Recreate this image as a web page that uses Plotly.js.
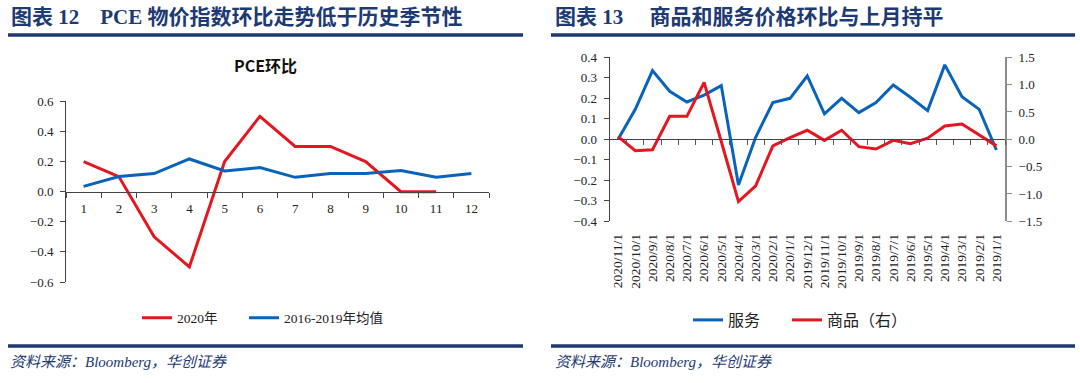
<!DOCTYPE html>
<html>
<head>
<meta charset="utf-8">
<script src="https://cdn.plot.ly/plotly-3.0.1.min.js"></script>
<style>html,body{margin:0;padding:0;background:#fff;}#chart{width:1080px;height:383px;}</style>
</head>
<body>
<div id="chart"></div>
<script>
// ---- Left chart data (图表12) ----
const months = ['1','2','3','4','5','6','7','8','9','10','11','12'];
const pce2020 = [0.2, 0.1, -0.3, -0.5, 0.2, 0.5, 0.3, 0.3, 0.2, 0.0, 0.0];
const pceAvg = [0.035, 0.10, 0.12, 0.217, 0.137, 0.16, 0.095, 0.12, 0.12, 0.14, 0.095, 0.12];
const leftYTicks = [-0.6, -0.4, -0.2, 0.0, 0.2, 0.4, 0.6];

// ---- Right chart data (图表13) ----
const dates = ['2020/11/1','2020/10/1','2020/9/1','2020/8/1','2020/7/1','2020/6/1','2020/5/1','2020/4/1','2020/3/1','2020/2/1','2020/1/1','2019/12/1','2019/11/1','2019/10/1','2019/9/1','2019/8/1','2019/7/1','2019/6/1','2019/5/1','2019/4/1','2019/3/1','2019/2/1','2019/1/1'];
const services = [0.00, 0.146, 0.335, 0.234, 0.182, 0.216, 0.262, -0.223, 0.01, 0.179, 0.20, 0.309, 0.124, 0.20, 0.13, 0.179, 0.265, 0.205, 0.14, 0.363, 0.208, 0.146, -0.052];
const goods = [0.05, -0.21, -0.19, 0.42, 0.42, 1.04, -0.04, -1.14, -0.85, -0.12, 0.03, 0.165, -0.02, 0.165, -0.134, -0.177, -0.02, -0.08, 0.02, 0.244, 0.28, 0.08, -0.12];

const RED = '#E5161F', BLUE = '#0A63BA', NAVY = '#1D3A73';
const W = 1080, H = 383;
const px = v => v / W, py = v => 1 - v / H;
const serif = 'Liberation Serif, Noto Sans CJK SC, serif';
const tickFont = {family: serif, size: 13, color: '#222'};
const nb = '\u00A0';

const traces = [
  {x: months.slice(0, pce2020.length), y: pce2020, name: '2020年', type: 'scatter', mode: 'lines',
   line: {color: RED, width: 3}, xaxis: 'x', yaxis: 'y', legend: 'legend'},
  {x: months, y: pceAvg, name: '2016-2019年均值', type: 'scatter', mode: 'lines',
   line: {color: BLUE, width: 3}, xaxis: 'x', yaxis: 'y', legend: 'legend3'},
  {x: dates, y: services, name: '服务', type: 'scatter', mode: 'lines',
   line: {color: BLUE, width: 3}, xaxis: 'x3', yaxis: 'y3', legend: 'legend2'},
  {x: dates, y: goods, name: '商品（右）', type: 'scatter', mode: 'lines',
   line: {color: RED, width: 3}, xaxis: 'x4', yaxis: 'y4', legend: 'legend4'}
];

const leftLegendFont = {family: serif, size: 13.5, color: '#222'};
const rightLegendFont = {family: 'Noto Sans CJK SC, sans-serif', size: 16, color: '#222'};
const mkLegend = (xpx, ypx, font) => ({orientation: 'h', x: px(xpx), y: py(ypx), xanchor: 'left', yanchor: 'middle',
  font: font, bgcolor: 'rgba(0,0,0,0)', itemwidth: 30});

const lTop = 101.3, lBot = 282, rTop = 57.3, rBot = 221.3;
const layout = {
  width: W, height: H,
  margin: {l: 0, r: 0, t: 0, b: 0},
  paper_bgcolor: '#fff', plot_bgcolor: 'rgba(0,0,0,0)',
  showlegend: true,
  // Left chart
  xaxis: {domain: [px(66), px(489)], anchor: 'free', position: (py(lTop) + py(lBot)) / 2,
    type: 'category', range: [-0.5, months.length - 0.5], showgrid: false, zeroline: false,
    showline: true, linecolor: '#444', linewidth: 1,
    ticks: 'outside', tickson: 'boundaries', ticklen: 5, tickcolor: '#444',
    tickfont: tickFont, ticklabelstandoff: 5},
  yaxis: {domain: [py(lBot), py(lTop)], anchor: 'x', range: [-0.6, 0.6], tickvals: leftYTicks,
    tickformat: '.1f', showgrid: false, zeroline: false, showline: true, linecolor: '#444', linewidth: 1,
    ticks: 'outside', ticklen: 5, tickcolor: '#444', tickfont: tickFont, ticklabelstandoff: 4},
  // Right chart
  xaxis3: {domain: [px(609.5), px(1005)], anchor: 'y3', type: 'category', range: [-0.5, dates.length - 0.5],
    showgrid: false, zeroline: false,
    showline: false, ticks: '', tickangle: -90, tickfont: {family: serif, size: 13.5, color: '#222'},
    ticklabelstandoff: 9},
  xaxis4: {overlaying: 'x3', anchor: 'free', position: (py(rTop) + py(rBot)) / 2, type: 'category',
    range: [-0.5, dates.length - 0.5],
    showgrid: false, zeroline: false, showline: true, linecolor: '#444', linewidth: 1,
    ticks: 'outside', tickson: 'boundaries', ticklen: 5, tickcolor: '#555', showticklabels: false},
  yaxis3: {domain: [py(rBot), py(rTop)], anchor: 'x3', range: [-0.4, 0.4], dtick: 0.1, tick0: 0,
    tickformat: '.1f', showgrid: false, zeroline: false, showline: true, linecolor: '#444', linewidth: 1,
    ticks: 'outside', ticklen: 5, tickcolor: '#444', tickfont: tickFont, ticklabelstandoff: 4},
  yaxis4: {overlaying: 'y3', anchor: 'x3', side: 'right', range: [-1.5, 1.5], dtick: 0.5, tick0: 0,
    tickformat: '.1f', showgrid: false, zeroline: false, showline: true, linecolor: '#8c8c8c', linewidth: 2,
    ticks: 'outside', ticklen: 5, tickcolor: '#8c8c8c', tickfont: tickFont, ticklabelstandoff: 4},
  legend: mkLegend(137, 318, leftLegendFont),
  legend3: mkLegend(244, 318, leftLegendFont),
  legend2: mkLegend(688, 320, rightLegendFont),
  legend4: mkLegend(787, 320, rightLegendFont),
  annotations: [
    {text: '<b>图表' + nb + '12' + nb + nb + nb + nb + 'PCE' + nb + '物价指数环比走势低于历史季节性</b>', x: px(9), y: py(17), xref: 'paper', yref: 'paper',
     xanchor: 'left', yanchor: 'middle', showarrow: false, font: {family: serif, size: 21, color: NAVY}},
    {text: '<b>图表' + nb + '13' + nb + nb + nb + nb + nb + '商品和服务价格环比与上月持平</b>', x: px(553), y: py(17), xref: 'paper', yref: 'paper',
     xanchor: 'left', yanchor: 'middle', showarrow: false, font: {family: serif, size: 21, color: NAVY}},
    {text: '<b>PCE环比</b>', x: px(265), y: py(65), xref: 'paper', yref: 'paper', xanchor: 'center', yanchor: 'middle',
     showarrow: false, font: {family: 'Noto Sans CJK SC, sans-serif', size: 16, color: '#111'}},
    {text: '<i>资料来源：Bloomberg，华创证券</i>', x: px(8), y: py(362), xref: 'paper', yref: 'paper',
     xanchor: 'left', yanchor: 'middle', showarrow: false, font: {family: serif, size: 15, color: NAVY}},
    {text: '<i>资料来源：Bloomberg，华创证券</i>', x: px(553), y: py(362), xref: 'paper', yref: 'paper',
     xanchor: 'left', yanchor: 'middle', showarrow: false, font: {family: serif, size: 15, color: NAVY}}
  ],
  shapes: [
    {type: 'line', xref: 'paper', yref: 'paper', x0: px(8), x1: px(523), y0: py(35), y1: py(35), line: {color: NAVY, width: 3.5}},
    {type: 'line', xref: 'paper', yref: 'paper', x0: px(551), x1: px(1075), y0: py(35), y1: py(35), line: {color: NAVY, width: 3.5}},
    {type: 'line', xref: 'paper', yref: 'paper', x0: px(8), x1: px(523), y0: py(346), y1: py(346), line: {color: NAVY, width: 3.5}},
    {type: 'line', xref: 'paper', yref: 'paper', x0: px(551), x1: px(1075), y0: py(346), y1: py(346), line: {color: NAVY, width: 3.5}}
  ]
};

Plotly.newPlot('chart', traces, layout, {staticPlot: true, displayModeBar: false});
</script>
</body>
</html>
